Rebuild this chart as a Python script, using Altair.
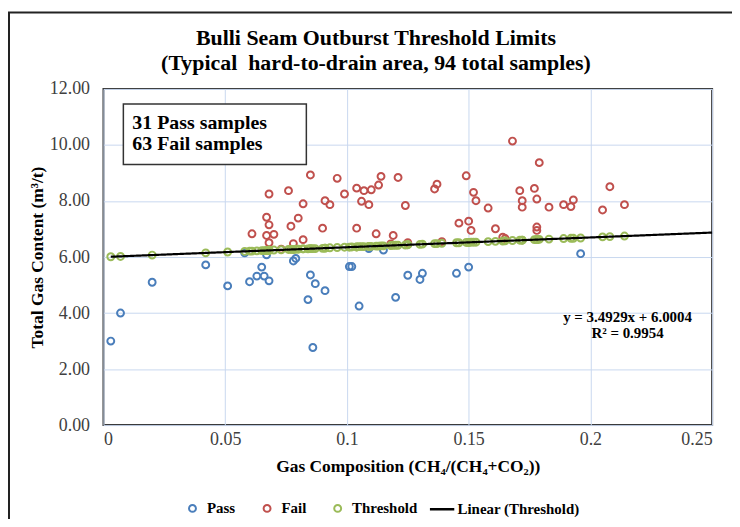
import altair as alt
import pandas as pd

# ---- data ----
pass_x = [0.003, 0.007, 0.020, 0.042, 0.051, 0.060, 0.063, 0.065, 0.066, 0.068,
          0.078, 0.079, 0.085, 0.087, 0.084, 0.086, 0.091, 0.101, 0.102, 0.105,
          0.120, 0.125, 0.130, 0.131, 0.145, 0.150, 0.196, 0.115, 0.067, 0.058, 0.109]
pass_y = [3.00, 4.00, 5.10, 5.72, 4.97, 5.12, 5.32, 5.64, 5.32, 5.15,
          5.86, 5.95, 5.36, 5.05, 4.48, 2.77, 4.80, 5.66, 5.66, 4.25,
          4.56, 5.35, 5.20, 5.42, 5.42, 5.64, 6.12, 6.25, 6.08, 6.15, 6.30]

fail_x = [0.085, 0.096, 0.114, 0.076, 0.068, 0.113, 0.104, 0.107, 0.110, 0.099,
          0.082, 0.091, 0.093, 0.106, 0.109, 0.067, 0.068, 0.080, 0.077, 0.090,
          0.104, 0.061, 0.067, 0.070, 0.068, 0.082, 0.078, 0.112, 0.168, 0.179,
          0.121, 0.136, 0.137, 0.149, 0.152, 0.153, 0.158, 0.171, 0.172, 0.172,
          0.177, 0.178, 0.183, 0.189, 0.192, 0.193, 0.205, 0.208, 0.124, 0.119,
          0.125, 0.146, 0.150, 0.151, 0.161, 0.164, 0.165, 0.178, 0.178, 0.214,
          0.073, 0.118, 0.139]
fail_y = [8.93, 8.81, 8.88, 8.37, 8.25, 8.57, 8.46, 8.37, 8.40, 8.25,
          7.90, 8.01, 7.87, 7.99, 7.87, 7.42, 7.15, 7.39, 7.10, 7.03,
          7.03, 6.83, 6.77, 6.81, 6.51, 6.62, 6.48, 6.83, 10.14, 9.37,
          8.84, 8.43, 8.60, 8.90, 8.31, 8.01, 7.75, 8.37, 8.01, 7.78,
          8.45, 8.07, 7.78, 7.87, 7.80, 8.04, 7.68, 8.51, 7.84, 6.77,
          6.51, 7.21, 7.28, 6.95, 7.01, 6.71, 6.66, 7.07, 6.95, 7.87,
          6.28, 6.47, 6.55]

thr_x = pass_x + fail_x
thr_y = [6.01, 6.02, 6.07, 6.15, 6.18, 6.21, 6.22, 6.23, 6.23, 6.24,
         6.27, 6.28, 6.30, 6.30, 6.29, 6.30, 6.32, 6.35, 6.36, 6.37,
         6.42, 6.44, 6.45, 6.46, 6.51, 6.52, 6.68, 6.40, 6.23, 6.20, 6.38,
         6.30, 6.34, 6.40, 6.27, 6.24, 6.39, 6.36, 6.37, 6.38, 6.35,
         6.29, 6.32, 6.33, 6.37, 6.38, 6.23, 6.24, 6.28, 6.27, 6.31,
         6.36, 6.21, 6.23, 6.25, 6.24, 6.29, 6.27, 6.39, 6.59, 6.63,
         6.42, 6.48, 6.48, 6.52, 6.53, 6.53, 6.55, 6.60, 6.60, 6.60,
         6.62, 6.62, 6.64, 6.66, 6.67, 6.67, 6.72, 6.73, 6.43, 6.42,
         6.44, 6.51, 6.52, 6.53, 6.56, 6.57, 6.58, 6.62, 6.62, 6.75,
         6.26, 6.41, 6.49]

series_names = ["Pass", "Fail", "Threshold"]
series_colors = ["#4a7ebb", "#c0504d", "#9bbb59"]
x_ticks = [0, 0.05, 0.1, 0.15, 0.2, 0.25]
y_ticks = [0, 2, 4, 6, 8, 10, 12]
title_lines = ["Bulli Seam Outburst Threshold Limits",
               "(Typical\u00a0 hard-to-drain area, 94 total samples)"]

pts = pd.concat([
    pd.DataFrame({"x": pass_x, "y": pass_y, "series": "Pass"}),
    pd.DataFrame({"x": fail_x, "y": fail_y, "series": "Fail"}),
    pd.DataFrame({"x": thr_x, "y": thr_y, "series": "Threshold"}),
], ignore_index=True)
thr = pd.DataFrame({"x": thr_x, "y": thr_y})
one = pd.DataFrame({"a": [0]})

FONT = "Liberation Serif"

xscale = alt.Scale(domain=[0, 0.25], nice=False, zero=False)
yscale = alt.Scale(domain=[0, 12], nice=False)

xaxis = alt.Axis(values=x_ticks, format="~g", title="Gas Composition (CH\u2084/(CH\u2084+CO\u2082))",
                 labelPadding=5, titlePadding=10, grid=True)
yaxis = alt.Axis(values=y_ticks, format=".2f", title="Total Gas Content (m\u00b3/t)",
                 labelPadding=14, titlePadding=3, grid=True)

points = alt.Chart(pts).mark_point(filled=False, size=48, strokeWidth=2, opacity=1).encode(
    x=alt.X("x:Q", scale=xscale, axis=xaxis),
    y=alt.Y("y:Q", scale=yscale, axis=yaxis),
    color=alt.Color("series:N", scale=alt.Scale(domain=series_names, range=series_colors),
                    legend=alt.Legend(orient="none", legendX=82, legendY=414, direction="horizontal",
                                      title=None, symbolType="circle", symbolSize=48,
                                      symbolStrokeWidth=2, columnPadding=24, labelOffset=7)),
)

trend = alt.Chart(thr).transform_regression(
    "x", "y", extent=[0.003, 0.25]
).transform_calculate(
    lname="'Linear (Threshold)'"
).mark_line(color="black", strokeWidth=2.2).encode(
    x=alt.X("x:Q", scale=xscale),
    y=alt.Y("y:Q", scale=yscale),
    strokeDash=alt.StrokeDash("lname:N", scale=alt.Scale(domain=["Linear (Threshold)"], range=[[1, 0]]),
                              legend=alt.Legend(orient="none", legendX=327, legendY=409, title=None,
                                                symbolType="stroke", symbolSize=600,
                                                symbolStrokeWidth=2.5, symbolStrokeColor="black",
                                                labelOffset=2)),
)

box = alt.Chart(one).mark_rect(fill="white", stroke="#333333", strokeWidth=1.5).encode(
    x=alt.value(20), x2=alt.value(204), y=alt.value(15), y2=alt.value(76))
box_t1 = alt.Chart(one).mark_text(text="31 Pass samples", font=FONT, fontSize=20, fontWeight="bold",
                                  align="left", baseline="middle", color="black").encode(
    x=alt.value(29), y=alt.value(34))
box_t2 = alt.Chart(one).mark_text(text="63 Fail samples", font=FONT, fontSize=20, fontWeight="bold",
                                  align="left", baseline="middle", color="black").encode(
    x=alt.value(29), y=alt.value(55))

eq1 = alt.Chart(one).mark_text(text="y = 3.4929x + 6.0004", font=FONT, fontSize=15, fontWeight="bold",
                               align="center", baseline="middle", color="black").encode(
    x=alt.value(527), y=alt.value(229))
eq2 = alt.Chart(one).mark_text(text="R\u00b2 = 0.9954", font=FONT, fontSize=15, fontWeight="bold",
                               align="center", baseline="middle", color="black").encode(
    x=alt.value(527), y=alt.value(245))

title1 = alt.Chart(one).mark_text(text=title_lines[0], font=FONT, fontSize=22, fontWeight="bold",
                                  align="center", baseline="middle", color="black").encode(
    x=alt.value(274), y=alt.value(-51))
title2 = alt.Chart(one).mark_text(text=title_lines[1], font=FONT, fontSize=22, fontWeight="bold",
                                  align="center", baseline="middle", color="black").encode(
    x=alt.value(274), y=alt.value(-26))

outer = alt.Chart(one).mark_rect(fill=None, stroke="#222222", strokeWidth=2).encode(
    x=alt.value(-95), x2=alt.value(700), y=alt.value(-77), y2=alt.value(460))

chart = alt.layer(box, points, trend, box_t1, box_t2, eq1, eq2, title1, title2, outer).properties(
    width=612, height=338,
    autosize=alt.AutoSizeParams(type="none"),
    padding={"left": 96, "top": 80, "right": 20, "bottom": 93},
    background="white",
).configure_view(
    stroke="#3a3a3a", strokeWidth=2
).configure_axis(
    labelFont=FONT, labelFontSize=18, labelColor="#404040",
    titleFont=FONT, titleFontSize=17.5, titleFontWeight="bold", titleColor="black",
    gridColor="#c9d8ef", gridWidth=1, ticks=False, domain=False,
).configure_legend(
    labelFont=FONT, labelFontSize=15, labelFontWeight="bold", labelColor="black", padding=0,
)

chart.save("out.html", embed_options={"renderer": "svg", "actions": False})
